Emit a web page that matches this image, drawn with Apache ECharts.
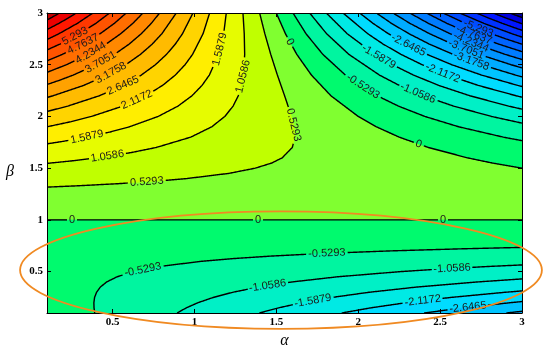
<!DOCTYPE html>
<html><head><meta charset="utf-8">
<script src="https://cdn.jsdelivr.net/npm/echarts@6/dist/echarts.min.js"></script>
<style>html,body{margin:0;padding:0;background:#fff}#chart{width:550px;height:354px}</style>
</head><body><div id="chart"></div>
<script>
// ---------- axis ranges and ticks ----------
const alphaRange = [0.1, 3];
const betaRange = [0.1, 3];
const alphaTicks = [0.5, 1, 1.5, 2, 2.5, 3];
const betaTicks = [0.5, 1, 1.5, 2, 2.5, 3];
const levelStep = 0.5293;

// ---------- contour lines: [alpha, beta] ----------
// positive levels +0.5293*k (k = 1..13), left edge -> top edge
const posContours = [
 [[0.1,1.3168],[0.2915,1.33],[0.5335,1.35],[0.7714,1.375],[0.9553,1.4],[1.2116,1.45],[1.3714,1.5],[1.4722,1.55],[1.5357,1.6],[1.5977,1.7],[1.6138,1.8],[1.6085,1.9],[1.5929,2.0],[1.5506,2.2],[1.5066,2.4],[1.466,2.6],[1.4299,2.8],[1.3982,3]],
 [[0.1,1.546],[0.2481,1.57],[0.4047,1.6],[0.6111,1.65],[0.7667,1.7],[0.9777,1.8],[1.1058,1.9],[1.1857,2.0],[1.2361,2.1],[1.2678,2.2],[1.2988,2.4],[1.3069,2.6],[1.3042,2.8],[1.2964,3]],
 [[0.1,1.7351],[0.2011,1.76],[0.3415,1.8],[0.4859,1.85],[0.6032,1.9],[0.7786,2.0],[0.8996,2.1],[0.9851,2.2],[1.0465,2.3],[1.0911,2.4],[1.1479,2.6],[1.1786,2.8],[1.1946,3]],
 [[0.1,1.8999],[0.2481,1.95],[0.3714,2.0],[0.5631,2.1],[0.7024,2.2],[0.8056,2.3],[0.8834,2.4],[0.9428,2.5],[0.9888,2.6],[1.0529,2.8],[1.0929,3]],
 [[0.1,2.0478],[0.2267,2.1],[0.4196,2.2],[0.5646,2.3],[0.6756,2.4],[0.7619,2.5],[0.8298,2.6],[0.8838,2.7],[0.9272,2.8],[0.9911,3]],
 [[0.1,2.1831],[0.1369,2.2],[0.3237,2.3],[0.4679,2.4],[0.5809,2.5],[0.6707,2.6],[0.7429,2.7],[0.8016,2.8],[0.8893,3]],
 [[0.1,2.3087],[0.1769,2.35],[0.2602,2.4],[0.4,2.5],[0.5117,2.6],[0.6021,2.7],[0.6759,2.8],[0.7368,2.9],[0.7875,3]],
 [[0.1,2.4263],[0.219,2.5],[0.3527,2.6],[0.4612,2.7],[0.5502,2.8],[0.6241,2.9],[0.6857,3]],
 [[0.1,2.5373],[0.1936,2.6],[0.3203,2.7],[0.4246,2.8],[0.5113,2.9],[0.5839,3]],
 [[0.1,2.6427],[0.1794,2.7],[0.2989,2.8],[0.3985,2.9],[0.4821,3]],
 [[0.1,2.7433],[0.1733,2.8],[0.2857,2.9],[0.3803,3]],
 [[0.1,2.8397],[0.1729,2.9],[0.228,2.95],[0.2786,3]],
 [[0.1,2.9324],[0.1324,2.96],[0.1768,3]]
];
// upper negative levels -0.5293*k (k = 0..14), top edge -> right edge
const negUpperContours = [
 [[1.5,3],[1.5556,2.8],[1.625,2.6],[1.7143,2.4],[1.8333,2.2],[2.0,2.0],[2.1111,1.9],[2.25,1.8],[2.4286,1.7],[2.6667,1.6],[2.8182,1.55],[3,1.5]],
 [[1.6018,3],[1.6812,2.8],[1.784,2.6],[1.922,2.4],[2.1161,2.2],[2.2456,2.1],[2.4072,2.0],[2.6138,1.9],[2.8862,1.8],[3,1.7658]],
 [[1.7036,3],[1.8069,2.8],[1.9431,2.6],[2.1297,2.4],[2.2511,2.3],[2.3988,2.2],[2.5821,2.1],[2.8143,2.0],[3,1.9353]],
 [[1.8054,3],[1.9326,2.8],[2.1021,2.6],[2.2095,2.5],[2.3375,2.4],[2.492,2.3],[2.6816,2.2],[2.9186,2.1],[3,2.0705]],
 [[1.9072,3],[2.0582,2.8],[2.1518,2.7],[2.2612,2.6],[2.3905,2.5],[2.5452,2.4],[2.7329,2.3],[2.9643,2.2],[3,2.1864]],
 [[2.0089,3],[2.0902,2.9],[2.1839,2.8],[2.2927,2.7],[2.4202,2.6],[2.5715,2.5],[2.7529,2.4],[2.9738,2.3],[3,2.2894]],
 [[2.1107,3],[2.203,2.9],[2.3095,2.8],[2.4335,2.7],[2.5793,2.6],[2.7524,2.5],[2.9607,2.4],[3,2.3831]],
 [[2.2125,3],[2.3158,2.9],[2.4352,2.8],[2.5744,2.7],[2.7383,2.6],[2.9334,2.5],[3,2.4697]],
 [[2.3143,3],[2.4286,2.9],[2.5609,2.8],[2.7153,2.7],[2.8974,2.6],[3,2.5504]],
 [[2.4161,3],[2.5414,2.9],[2.6865,2.8],[2.8562,2.7],[3,2.6265]],
 [[2.5179,3],[2.6542,2.9],[2.8122,2.8],[2.9009,2.75],[3,2.6985]],
 [[2.6197,3],[2.767,2.9],[2.9379,2.8],[3,2.7672]],
 [[2.7215,3],[2.7977,2.95],[2.8797,2.9],[2.9681,2.85],[3,2.8329]],
 [[2.8232,3],[2.9048,2.95],[3,2.8959]],
 [[2.925,3],[2.959,2.98],[3,2.9566]]
];
// lower negative levels -0.5293*k (k = 1..6), bottom edge -> right edge
const negLowerContours = [
 [[0.3915,0.1],[0.3871,0.15],[0.3862,0.2],[0.3905,0.25],[0.4024,0.3],[0.4252,0.35],[0.4643,0.4],[0.5278,0.45],[0.6286,0.5],[0.7884,0.55],[1.0447,0.6],[1.2286,0.625],[1.4665,0.65],[1.7777,0.675],[2.1906,0.7],[2.6218,0.72],[3,0.7342]],
 [[0.8942,0.1],[0.9506,0.15],[1.0223,0.2],[1.1143,0.25],[1.2333,0.3],[1.3889,0.35],[1.5953,0.4],[1.8737,0.45],[2.2572,0.5],[2.5038,0.525],[2.799,0.55],[3,0.5647]],
 [[1.3969,0.1],[1.5141,0.15],[1.6585,0.2],[1.8381,0.25],[2.0642,0.3],[2.3526,0.35],[2.7263,0.4],[3,0.4295]],
 [[1.8995,0.1],[2.0776,0.15],[2.2947,0.2],[2.562,0.25],[2.8951,0.3],[3,0.3136]],
 [[2.4022,0.1],[2.6412,0.15],[2.9309,0.2],[3,0.2106]],
 [[2.9048,0.1],[3,0.1169]]
];
// the level-0 line at beta = 1
const zeroLowerLine = [[0.1,1],[3,1]];

// ---------- contour labels: [text, family, level index, alpha, beta] ----------
const contourLabels = [
 ['5.293','P',10,0.283,2.74],['4.7637','P',9,0.338,2.642],['4.2344','P',8,0.393,2.545],
 ['3.7051','P',7,0.454,2.449],['3.1758','P',6,0.515,2.352],['2.6465','P',5,0.576,2.255],
 ['2.1172','P',4,0.649,2.159],['1.5879','P',3,0.344,1.80],['1.0586','P',2,0.472,1.578],
 ['0.5293','P',1,0.71,1.356],['1.5879','P',3,1.174,2.642],['1.0586','P',2,1.309,2.381],
 ['0.5293','P',1,1.602,1.917],
 ['0','N',0,1.571,2.71],['0','N',0,2.365,1.714],['-0.5293','N',1,2.023,2.275],
 ['-1.0586','N',2,2.347,2.159],['-1.5879','N',3,2.121,2.565],['-2.1172','N',4,2.499,2.352],
 ['-2.6465','N',5,2.286,2.623],['-3.1758','N',6,2.682,2.497],['-3.7051','N',7,2.652,2.623],
 ['-4.2344','N',8,2.682,2.69],['-4.7637','N',9,2.7,2.758],['-5.293','N',10,2.725,2.816],
 ['0','Z',0,0.253,1],['0','Z',0,1.388,1],['0','Z',0,2.518,1],
 ['-0.5293','L',1,0.686,0.515],['-0.5293','L',1,1.809,0.669],
 ['-1.0586','L',2,1.449,0.34],['-1.0586','L',2,2.573,0.53],
 ['-1.5879','L',3,1.724,0.21],['-2.1172','L',4,2.395,0.21],['-2.6465','L',5,2.67,0.147]
];

// ---------- highlight ellipse (data units): centre and radii ----------
const ellipseCenter = [1.5286, 0.5145];
const ellipseRadii = [1.593, 0.568];

// ---------- band colours ----------
const posBandColors = ['#80ff30','#c0ff00','#e6fc00','#ffee00','#ffd400','#ffbb00','#ffa200','#ff8800','#ff6e00','#ff5400','#ff3800','#ff1800','#ec0000','#c40000'];
const negBandColors = ['#00fa6e','#00f5a0','#00f0c6','#00eae4','#00dcff','#00c4ff','#00acff','#0094ff','#007cff','#0064ff','#004cff','#0032ff','#0016ff','#0000e0','#0000a0'];

// ---------- build shapes ----------
const fills = [];
fills.push({pts:[[alphaRange[0],betaRange[0]],[alphaRange[1],betaRange[0]],[alphaRange[1],betaRange[1]],[alphaRange[0],betaRange[1]]], color:posBandColors[0]});
fills.push({pts:[[alphaRange[0],betaRange[0]],[alphaRange[1],betaRange[0]],[alphaRange[1],1],[alphaRange[0],1]], color:negBandColors[0]});
posContours.forEach((c,i)=>fills.push({pts:c.concat([[alphaRange[0],betaRange[1]]]), color:posBandColors[i+1]}));
negUpperContours.forEach((c,i)=>fills.push({pts:c.concat([[alphaRange[1],betaRange[1]]]), color:negBandColors[i]}));
negLowerContours.forEach((c,i)=>fills.push({pts:c.concat([[alphaRange[1],betaRange[0]]]), color:negBandColors[i+1]}));

const lines = [].concat(posContours, negUpperContours, negLowerContours, [zeroLowerLine]);
function lineIndexOf(fam, k){
  if (fam==='P') return k-1;
  if (fam==='N') return posContours.length + k;
  if (fam==='L') return posContours.length + negUpperContours.length + k - 1;
  return lines.length - 1;
}

const LABEL_FONT = '11px "Liberation Sans"';
const measureCtx = document.createElement('canvas').getContext('2d');
measureCtx.font = LABEL_FONT;
function textWidth(t){ return measureCtx.measureText(t).width; }

function nearest(px, p){
  let best = {d:Infinity, q:p, ang:0};
  for (let i=0;i<px.length-1;i++){
    const a=px[i], b=px[i+1];
    const dx=b[0]-a[0], dy=b[1]-a[1];
    const L2=dx*dx+dy*dy;
    let t = L2 ? ((p[0]-a[0])*dx+(p[1]-a[1])*dy)/L2 : 0;
    t=Math.max(0,Math.min(1,t));
    const q=[a[0]+t*dx,a[1]+t*dy];
    const d=(q[0]-p[0])**2+(q[1]-p[1])**2;
    if (d<best.d) best={d:d,q:q,ang:Math.atan2(dy,dx)};
  }
  return best;
}

// pixel placement of a label on its contour
function placeLabel(api, l){
  const px = lines[lineIndexOf(l[1], l[2])].map(p=>api.coord(p));
  return nearest(px, api.coord([l[3], l[4]]));
}

const chart = echarts.init(document.getElementById('chart'), null, {renderer:'canvas'});

const tickFont = {fontFamily:'Liberation Serif', fontWeight:'bold', fontSize:11, color:'#000'};
function mkAxis(pos, ticks, show, extra){
  return Object.assign({
    type:'value', min:(pos==='bottom'||pos==='top')?alphaRange[0]:betaRange[0],
    max:(pos==='bottom'||pos==='top')?alphaRange[1]:betaRange[1],
    position:pos, z:5,
    axisLine:{show:true, onZero:false, lineStyle:{color:'#000', width:1}},
    axisTick:{show:true, inside:true, length:4, customValues:ticks, lineStyle:{color:'#000', width:1}},
    axisLabel:Object.assign({show:show, customValues:ticks, margin:4}, tickFont),
    splitLine:{show:false}
  }, extra||{});
}

chart.setOption({
  animation:false,
  backgroundColor:'#fff',
  grid:{left:47, right:28, top:13, bottom:41, containLabel:false, outerBoundsMode:'none'},
  xAxis:[
    mkAxis('bottom', alphaTicks, true, {name:'α', nameLocation:'middle', nameGap:20,
      nameTextStyle:{fontFamily:'Liberation Serif', fontStyle:'italic', fontSize:16, color:'#000'}}),
    mkAxis('top', alphaTicks, false)
  ],
  yAxis:[
    mkAxis('left', betaTicks, true, {name:'β', nameLocation:'middle', nameGap:33, nameRotate:0,
      nameTextStyle:{fontFamily:'Liberation Serif', fontStyle:'italic', fontSize:16, color:'#000', verticalAlign:'top', padding:[1,0,0,0]}}),
    mkAxis('right', betaTicks, false)
  ],
  series:[
    {
      type:'custom', xAxisIndex:0, yAxisIndex:0, z:1, clip:true, silent:true,
      data: fills.map((f,i)=>[f.pts[0][0], f.pts[0][1], i]),
      renderItem:function(params, api){
        const f = fills[api.value(2)];
        return {type:'polygon', shape:{points:f.pts.map(p=>api.coord(p))},
          style:{fill:f.color, stroke:f.color, lineWidth:0.5}};
      }
    },
    {
      type:'custom', xAxisIndex:0, yAxisIndex:0, z:2, clip:true, silent:true,
      data: lines.map((c,i)=>[c[0][0], c[0][1], i]),
      renderItem:function(params, api){
        const li = api.value(2);
        const px = lines[li].map(p=>api.coord(p));
        // gaps under the labels that sit on this line
        const gaps = contourLabels.filter(l=>lineIndexOf(l[1], l[2])===li).map(l=>{
          const nb = placeLabel(api, l);
          return {c:nb.q, r:textWidth(l[0])/2 + 1.5};
        });
        const runs = []; let cur = [];
        const inGap = p => gaps.some(g => (p[0]-g.c[0])**2 + (p[1]-g.c[1])**2 < g.r*g.r);
        for (let i=0;i<px.length-1;i++){
          const a=px[i], b=px[i+1];
          const n = Math.max(1, Math.ceil(Math.hypot(b[0]-a[0], b[1]-a[1]) / 1));
          for (let s=(i===0?0:1); s<=n; s++){
            const p=[a[0]+(b[0]-a[0])*s/n, a[1]+(b[1]-a[1])*s/n];
            if (inGap(p)) { if (cur.length>1) runs.push(cur); cur=[]; }
            else cur.push(p);
          }
        }
        if (cur.length>1) runs.push(cur);
        return {type:'group', children: runs.map(r=>({type:'polyline', shape:{points:r},
          style:{fill:null, stroke:'#000', lineWidth:1.4}}))};
      }
    },
    {
      type:'custom', xAxisIndex:0, yAxisIndex:0, z:3, clip:false, silent:true,
      data: contourLabels.map((l,i)=>[l[3], l[4], i]),
      renderItem:function(params, api){
        const l = contourLabels[api.value(2)];
        const nb = placeLabel(api, l);
        let rot = -nb.ang;
        while (rot > Math.PI/2) rot -= Math.PI;
        while (rot < -Math.PI/2) rot += Math.PI;
        return {type:'text', x:nb.q[0], y:nb.q[1], rotation:rot,
          style:{text:l[0], font:LABEL_FONT, fill:'#1a1a1a',
            align:'center', verticalAlign:'middle', textAlign:'center', textVerticalAlign:'middle'}};
      }
    },
    {
      type:'custom', xAxisIndex:0, yAxisIndex:0, z:10, clip:false, silent:true,
      data:[[ellipseCenter[0], ellipseCenter[1]]],
      renderItem:function(params, api){
        const c = api.coord([api.value(0), api.value(1)]);
        const s = api.size(ellipseRadii);
        return {type:'ellipse', shape:{cx:c[0], cy:c[1], rx:s[0], ry:s[1]},
          style:{fill:null, stroke:'#f08a22', lineWidth:1.8}};
      }
    }
  ]
});
</script></body></html>
